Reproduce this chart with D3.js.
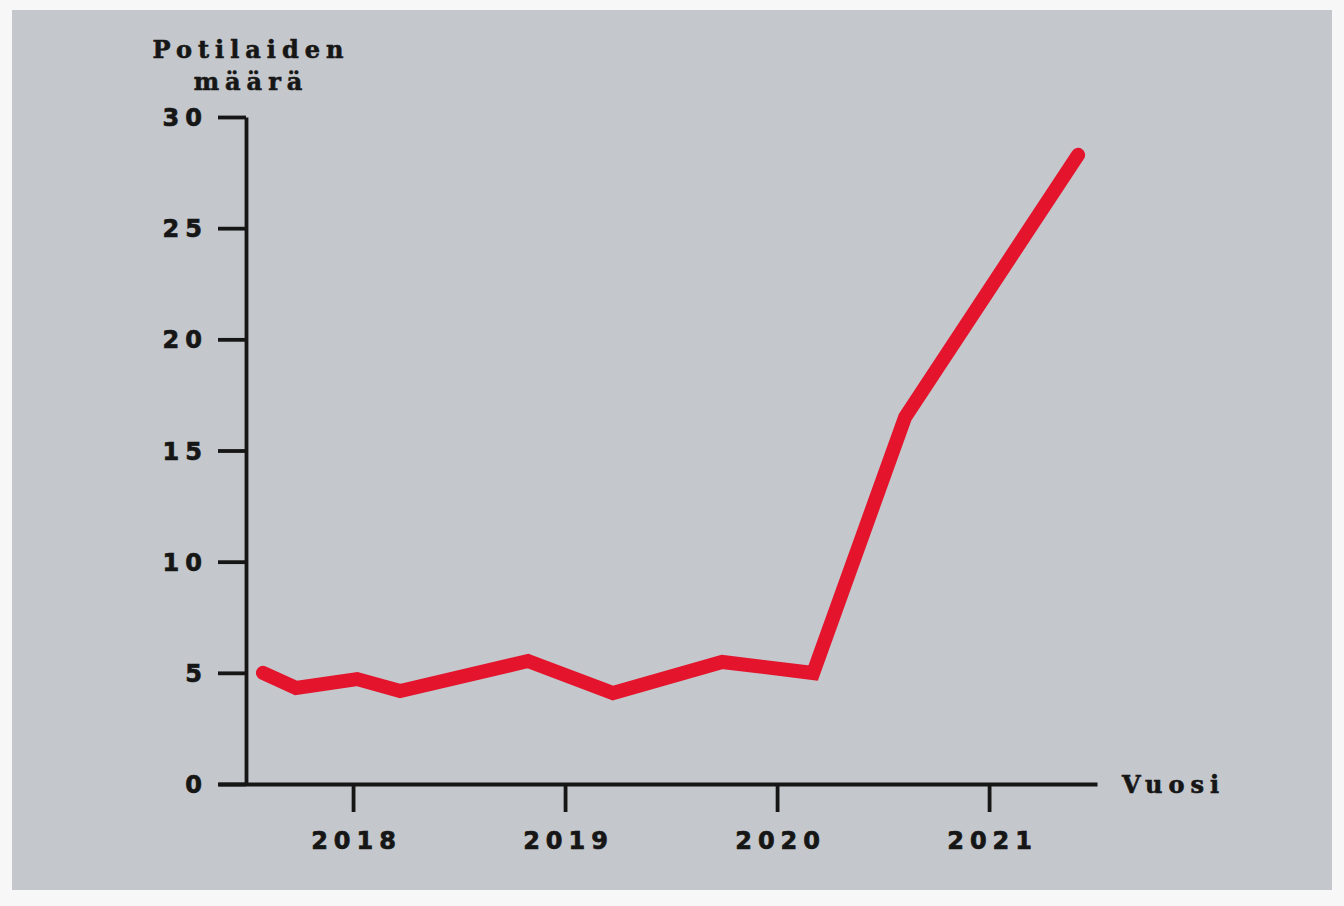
<!DOCTYPE html>
<html><head><meta charset="utf-8">
<script src="https://cdn.jsdelivr.net/npm/d3@7"></script>
<style>
html,body{margin:0;padding:0;background:#f7f7f7;}
svg{display:block;}
</style></head>
<body>
<svg id="chart" width="1344" height="906"></svg>
<script>
const years = [2017.575, 2017.731, 2018.019, 2018.222, 2018.825, 2019.226, 2019.741, 2020.170, 2020.604, 2021.420];
const patients = [5.0, 4.32, 4.72, 4.18, 5.53, 4.09, 5.49, 4.99, 16.5, 28.3];
const yTicks = [0, 5, 10, 15, 20, 25, 30];
const xTicks = [2018, 2019, 2020, 2021];
const yTitle = ["Potilaiden", "määrä"];
const xTitle = "Vuosi";

const svg = d3.select("#chart");
svg.append("rect").attr("x",12).attr("y",10).attr("width",1320).attr("height",880).attr("fill","#c4c7cb");

const x = d3.scaleLinear().domain([2017.363, 2021.509]).range([218, 1097]);
const y = d3.scaleLinear().domain([0, 30]).range([784, 117]);

const numFont = "'DejaVu Sans', sans-serif";
const serifFont = "'DejaVu Serif', serif";
const ink = "#161616";

const yAxis = svg.append("g").attr("transform","translate(246,0)")
  .call(d3.axisLeft(y).tickValues(yTicks).tickSize(28).tickSizeOuter(0).tickPadding(16).tickFormat(d3.format("d")));
const xAxis = svg.append("g").attr("transform","translate(0,784)")
  .call(d3.axisBottom(x).tickValues(xTicks).tickSize(28).tickSizeOuter(0).tickFormat(d3.format("d")));

[yAxis, xAxis].forEach(g => {
  g.select(".domain").attr("stroke", ink).attr("stroke-width", 3.8);
  g.selectAll(".tick line").attr("stroke", ink).attr("stroke-width", 3.8);
  g.selectAll(".tick text").attr("fill", ink).attr("stroke", ink).attr("stroke-width", 0.7)
    .style("font-family", numFont)
    .style("font-weight","bold").style("font-size","24px").style("letter-spacing","6px");
});
yAxis.selectAll(".tick text").attr("dx", 6).attr("dy", "0.36em");
xAxis.selectAll(".tick text").attr("y", 65).attr("dy", 0).attr("dx", 3);

const line = d3.line().x((d,i)=>x(years[i])).y(d=>y(d));
svg.append("path").datum(patients).attr("d", line)
  .attr("fill","none").attr("stroke","#e3142c").attr("stroke-width",14)
  .attr("stroke-linecap","round").attr("stroke-linejoin","miter");

const tt = svg.append("text").attr("fill", ink).attr("stroke", ink).attr("stroke-width", 0.6).attr("text-anchor","middle")
  .style("font-family", serifFont).style("font-weight","bold").style("font-size","24px").style("letter-spacing","6px");
tt.append("tspan").attr("x",251).attr("y",58).text(yTitle[0]);
tt.append("tspan").attr("x",251).attr("y",90).text(yTitle[1]);

svg.append("text").attr("x",1122).attr("y",793).attr("fill",ink).attr("stroke", ink).attr("stroke-width", 0.6)
  .style("font-family", serifFont).style("font-weight","bold").style("font-size","24px").style("letter-spacing","6px")
  .text(xTitle);
</script>
</body></html>
